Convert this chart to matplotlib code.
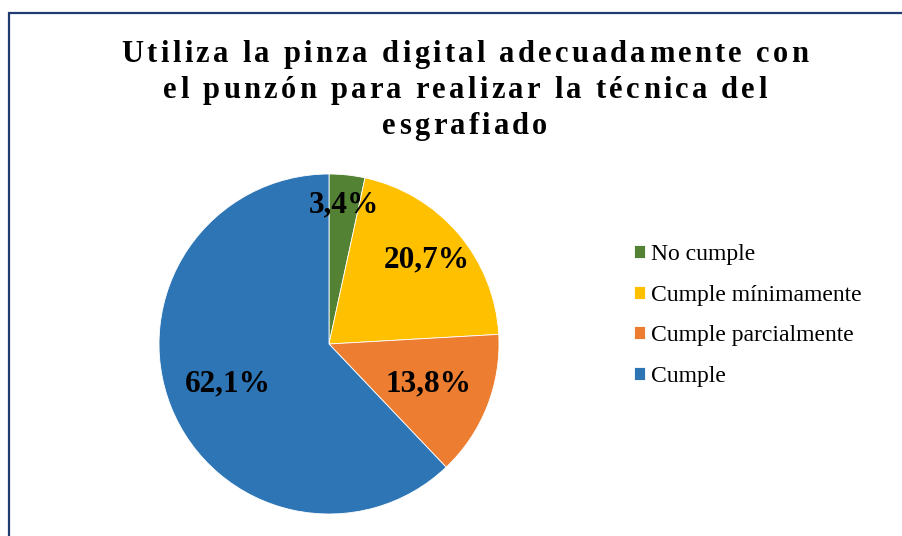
import matplotlib
matplotlib.use("Agg")
import numpy as np
import matplotlib.pyplot as plt
from matplotlib.patches import Rectangle
from matplotlib.font_manager import FontProperties, findfont
from matplotlib.ft2font import FT2Font

W, H = 902, 536
categories = ["No cumple", "Cumple mínimamente", "Cumple parcialmente", "Cumple"]
values = [3.4, 20.7, 13.8, 62.1]
labels = ["3,4%", "20,7%", "13,8%", "62,1%"]
colors = ["#548235", "#FFC000", "#ED7D31", "#2E75B6"]
label_dist = [0.82, 0.76, 0.63, 0.64]
title_lines = ["Utiliza la pinza digital adecuadamente con",
               "el punzón para realizar la técnica del",
               "esgrafiado"]

fig = plt.figure(figsize=(W / 100, H / 100), dpi=100)

# chart border (only top and left are visible in the crop)
fig.patches.append(Rectangle((9 / W, -0.1), 1.2, (H - 13) / H + 0.1,
                             transform=fig.transFigure, fill=False,
                             edgecolor="#1F3B70", linewidth=1.6))

# pie
cx, cy, r = 329, 344, 170
ax = fig.add_axes([(cx - r) / W, (H - cy - r) / H, 2 * r / W, 2 * r / H])
wedges, _ = ax.pie(values, colors=colors, startangle=90, counterclock=False,
                   radius=1, wedgeprops=dict(edgecolor="white", linewidth=0.6))
ax.set_xlim(-1, 1)
ax.set_ylim(-1, 1)
ax.set_aspect("equal")
ax.axis("off")

for w, lab, d in zip(wedges, labels, label_dist):
    ang = np.deg2rad((w.theta1 + w.theta2) / 2)
    ax.text(d * np.cos(ang), d * np.sin(ang), lab, ha="center", va="center",
            family="Liberation Serif", fontweight="bold", fontsize=22.5)

# title with letter spacing
tsize = 22
tprop = FontProperties(family="Liberation Serif", weight="bold", size=tsize)
font = FT2Font(findfont(tprop))
font.set_size(tsize, 100)
tracking = 3.3
baselines = [62, 98, 134]
for line, yb in zip(title_lines, baselines):
    adv = []
    for ch in line:
        g = font.load_char(ord(ch))
        adv.append(g.linearHoriAdvance / 65536)
    total = sum(adv) + tracking * (len(line) - 1)
    x = 465 - total / 2
    for ch, a in zip(line, adv):
        if ch != " ":
            fig.text(x / W, 1 - yb / H, ch, fontproperties=tprop,
                     ha="left", va="baseline")
        x += a + tracking

leg = fig.legend(wedges, categories, loc="upper left",
                 bbox_to_anchor=(634 / W, 1 - 244 / H),
                 frameon=False, borderpad=0, borderaxespad=0,
                 handlelength=0.48, handleheight=0.48, handletextpad=0.25,
                 labelspacing=0.83,
                 prop=FontProperties(family="Liberation Serif", size=17))

fig.savefig("out.png", dpi=100)
